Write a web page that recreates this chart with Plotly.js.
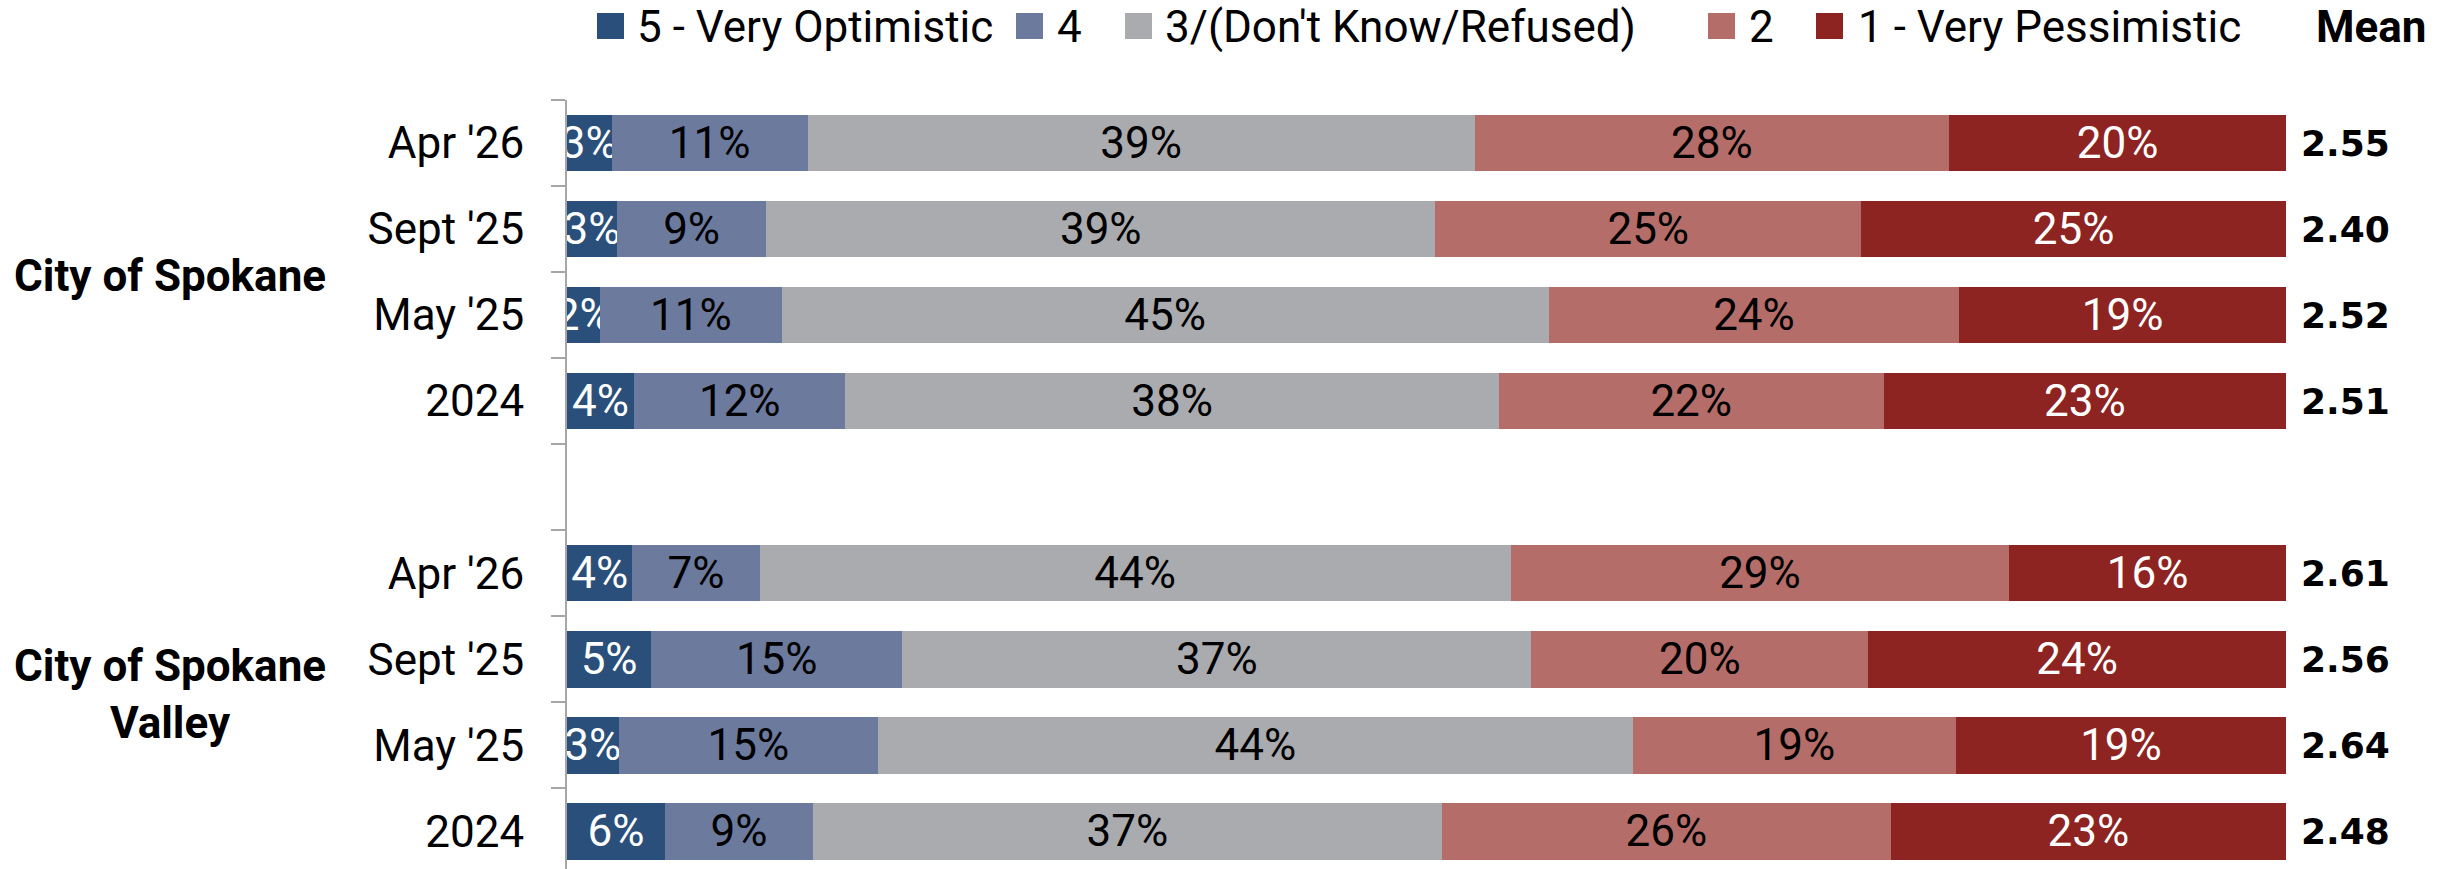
<!DOCTYPE html>
<html>
<head>
<meta charset="utf-8">
<script src="https://cdn.plot.ly/plotly-3.0.1.min.js"></script>
<style>html,body{margin:0;padding:0;background:#fff;}#chart{width:2453px;height:869px;}</style>
</head>
<body>
<div id="chart"></div>
<script>
// ---- data ----
const groups = ["City of Spokane", "City of Spokane<br>Valley"];
const periods = ["Apr '26", "Sept '25", "May '25", "2024"];
const seriesNames = ["5 - Very Optimistic", "4", "3/(Don't Know/Refused)", "2", "1 - Very Pessimistic"];
const veryOptimistic = [2.6, 2.9, 1.9, 3.9, 3.8, 4.9, 3.0, 5.7];
const optimistic4    = [11.4, 8.7, 10.6, 12.3, 7.4, 14.6, 15.1, 8.6];
const neutral3       = [38.8, 38.9, 44.6, 38.0, 43.7, 36.6, 43.9, 36.6];
const pessimistic2   = [27.6, 24.8, 23.9, 22.4, 29.0, 19.6, 18.8, 26.1];
const veryPessimistic= [19.6, 24.7, 19.0, 23.4, 16.1, 24.3, 19.2, 23.0];
const means = [2.55, 2.40, 2.52, 2.51, 2.61, 2.56, 2.64, 2.48];

// ---- styling ----
const colors = ["#2A4F7A", "#6C7A9E", "#AAABAE", "#B46D69", "#8D2422"];
const textColors = ["#ffffff", "#000000", "#000000", "#000000", "#ffffff"];
const FONT = "Roboto, 'Open Sans', sans-serif";
const FS = 44;
const W = 2453, H = 869, ML = 567, MR = 167, MT = 100, MB = 0;
const PW = W - ML - MR, PH = H - MT - MB;
const px = X => (X - ML) / PW;          // pixel -> paper x
const py = Y => 1 + (MT - Y) / PH;      // pixel -> paper y

// row positions: group g, period i -> g*(periods+1)+i
const yPos = [];
const yLabels = [];
groups.forEach((g, gi) => periods.forEach((p, pi) => { yPos.push(gi * (periods.length + 1) + pi); yLabels.push(p); }));

const seriesValues = [veryOptimistic, optimistic4, neutral3, pessimistic2, veryPessimistic];
const traces = seriesValues.map((vals, k) => ({
  type: 'bar', orientation: 'h', name: seriesNames[k],
  x: vals, y: yPos, width: 0.66,
  marker: {color: colors[k]},
  texttemplate: '%{x:.0f}%', textposition: 'inside', insidetextanchor: 'middle',
  textangle: 0, constraintext: 'none',
  insidetextfont: {family: FONT, size: FS, color: textColors[k]},
  hoverinfo: 'skip', showlegend: false
}));

const minorTicks = [];
for (let v = -0.5; v < yPos[yPos.length - 1] + 0.5; v += 1) minorTicks.push(v);

const annotations = [];
const shapes = [];
const groupShift = [0, 12];
groups.forEach((g, gi) => {
  annotations.push({
    xref: 'paper', yref: 'y', x: px(170), y: gi * (periods.length + 1) + (periods.length - 1) / 2 + 0.05,
    yshift: groupShift[gi],
    text: '<b>' + g + '</b>', showarrow: false, xanchor: 'center', yanchor: 'middle',
    font: {family: FONT, size: FS, color: '#000'}
  });
});
means.forEach((m, i) => {
  annotations.push({
    xref: 'paper', yref: 'y', x: px(2345), y: yPos[i], text: '<b>' + m.toFixed(2) + '</b>',
    showarrow: false, xanchor: 'center', yanchor: 'middle',
    font: {family: "'DejaVu Sans', Verdana, sans-serif", size: 36, color: '#000'}
  });
});
annotations.push({
  xref: 'paper', yref: 'paper', x: px(2371), y: py(27), text: '<b>Mean</b>', showarrow: false,
  xanchor: 'center', yanchor: 'middle', font: {family: FONT, size: FS, color: '#000'}
});

// legend (swatch + label), laid out like the original
const legendSwatchX = [597, 1016, 1125, 1708, 1816];
const legendTextX = [637, 1057, 1165, 1749, 1858];
seriesNames.forEach((n, k) => {
  shapes.push({type: 'rect', xref: 'paper', yref: 'paper',
    x0: px(legendSwatchX[k]), x1: px(legendSwatchX[k] + 27), y0: py(39), y1: py(13),
    fillcolor: colors[k], line: {width: 0}});
  annotations.push({xref: 'paper', yref: 'paper', x: px(legendTextX[k]), y: py(27), text: n,
    showarrow: false, xanchor: 'left', yanchor: 'middle', xshift: -2,
    font: {family: FONT, size: FS, color: '#000'}});
});

const layout = {
  width: W, height: H,
  margin: {l: ML, r: MR, t: MT, b: MB, pad: 0},
  paper_bgcolor: '#fff', plot_bgcolor: '#fff',
  barmode: 'stack', showlegend: false,
  xaxis: {range: [0, 100], showticklabels: false, showgrid: false, zeroline: false, showline: false, ticks: '', fixedrange: true},
  yaxis: {range: [8.44, -0.5], tickmode: 'array', tickvals: yPos, ticktext: yLabels, ticks: '',
          ticklabelstandoff: 32,
          tickfont: {family: FONT, size: FS, color: '#000'},
          showgrid: false, zeroline: false, showline: true, linecolor: '#A6A6A6', linewidth: 2,
          minor: {tickmode: 'array', tickvals: minorTicks, ticks: 'outside', ticklen: 14, tickwidth: 2, tickcolor: '#A6A6A6', showgrid: false}},
  annotations: annotations,
  shapes: shapes
};

Plotly.newPlot('chart', traces, layout, {displayModeBar: false, staticPlot: true});
</script>
</body>
</html>
